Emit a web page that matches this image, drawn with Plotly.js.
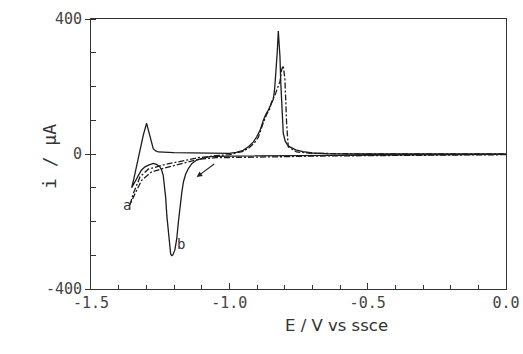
<!DOCTYPE html>
<html>
<head>
<meta charset="utf-8">
<script src="https://cdn.plot.ly/plotly-3.0.1.min.js"></script>
<style>html,body{margin:0;padding:0;background:#fff;}#chart{width:523px;height:354px;}</style>
</head>
<body>
<div id="chart"></div>
<script>
// Curve b (solid): cathodic scan from 0 V to vertex, then anodic return
const bE = [0, -0.3, -0.6, -0.7, -0.8, -0.9, -1.0, -1.04, -1.07, -1.095, -1.118, -1.135, -1.148, -1.158, -1.166, -1.172, -1.178, -1.184, -1.19, -1.197, -1.204, -1.208, -1.212, -1.217, -1.222, -1.226, -1.23, -1.233, -1.239, -1.245, -1.251, -1.263, -1.275, -1.29, -1.305, -1.318, -1.329, -1.34, -1.353,
  -1.345, -1.335, -1.323, -1.311, -1.299, -1.293, -1.287, -1.281, -1.275, -1.266, -1.257, -1.2, -1.1, -1.0, -0.975, -0.95, -0.93, -0.913, -0.901, -0.889, -0.877, -0.868, -0.859, -0.85, -0.841, -0.836, -0.831, -0.827, -0.823, -0.82, -0.817, -0.814, -0.811, -0.808, -0.805, -0.798, -0.79, -0.781, -0.76, -0.734, -0.7, -0.65, -0.5, 0];
const bI = [-1, -2, -3, -4, -5, -6, -6, -7, -8, -12, -18, -28, -43, -60, -83, -115, -152, -200, -251, -285, -299, -301, -297, -261, -220, -182, -130, -100, -63, -47, -38, -31, -28, -32, -38, -48, -63, -78, -100,
  -73, -33, 7, 56, 91, 72, 46, 28, 16, 9, 6, 4, 3, 2, 5, 11, 22, 36, 51, 70, 100, 118, 130, 145, 162, 195, 240, 300, 364, 330, 289, 210, 140, 95, 61, 38, 27, 21, 12, 7, 3, 1, 0, 0];

// Curve a (dash-dot)
const aE = [0, -0.3, -0.6, -0.7, -0.8, -0.9, -1.0, -1.05, -1.112, -1.172, -1.233, -1.281, -1.317, -1.341, -1.359,
  -1.347, -1.323, -1.293, -1.233, -1.172, -1.112, -1.052, -1.0, -0.95, -0.93, -0.91, -0.895, -0.878, -0.865, -0.855, -0.847, -0.835, -0.817, -0.811, -0.805, -0.799, -0.793, -0.787, -0.757, -0.7, -0.5, 0];
const aI = [-2, -3, -5, -6, -8, -9, -9, -11, -16, -28, -41, -53, -78, -118, -150,
  -117, -68, -45, -31, -21, -11, -5, -2, 8, 18, 32, 50, 91, 118, 132, 155, 175, 215, 250, 262, 220, 91, 21, 6, 2, 0, 0];

const xTickVals = [-1.5, -1.0, -0.5, 0.0];
const xTickText = ['-1.5', '-1.0', '-0.5', '0.0'];
const yTickVals = [-400, 0, 400];
const yTickText = ['-400', '0', '400'];

const lineColor = '#1c1c1c';
const traces = [
  {x: aE, y: aI, mode: 'lines', line: {color: lineColor, width: 1.3, dash: '6px,2px,2px,2px'}, hoverinfo: 'skip'},
  {x: bE, y: bI, mode: 'lines', line: {color: lineColor, width: 1.3}, hoverinfo: 'skip'}
];

const tickFont = {family: 'DejaVu Sans Mono', size: 15, color: '#444'};
const pw = 523 - 91 - 17, ph = 354 - 19 - 65;
const layout = {
  width: 523, height: 354,
  margin: {l: 91, r: 17, t: 19, b: 65},
  paper_bgcolor: '#fff', plot_bgcolor: '#fff',
  showlegend: false,
  xaxis: {
    range: [-1.5, 0], tickmode: 'array', tickvals: xTickVals, ticktext: xTickText,
    ticks: 'inside', ticklen: 6, tickwidth: 1, tickcolor: '#333',
    minor: {tickmode: 'linear', tick0: 0, dtick: 0.1, ticks: 'inside', ticklen: 4, tickcolor: '#333', showgrid: false},
    showline: true, mirror: true, linecolor: '#333', linewidth: 1,
    showgrid: false, zeroline: false, tickfont: tickFont
  },
  yaxis: {
    range: [-400, 400], tickmode: 'array', tickvals: yTickVals, ticktext: yTickText,
    ticks: 'outside', ticklen: 5, tickwidth: 1, tickcolor: '#333',
    minor: {tickmode: 'linear', tick0: 0, dtick: 100, ticks: 'inside', ticklen: 5, tickcolor: '#333', showgrid: false},
    showline: true, mirror: true, linecolor: '#333', linewidth: 1,
    showgrid: false, zeroline: false, tickfont: tickFont
  },
  annotations: [
    {x: -1.371, y: -152, xref: 'x', yref: 'y', text: 'a', showarrow: false, font: {family: 'DejaVu Sans Mono', size: 14, color: '#333'}},
    {x: -1.176, y: -266, xref: 'x', yref: 'y', text: 'b', showarrow: false, font: {family: 'DejaVu Sans Mono', size: 14, color: '#333'}},
    {x: -1.118, y: -68, xref: 'x', yref: 'y', ax: 19, ay: -14, text: '', showarrow: true, arrowhead: 2, arrowsize: 1, arrowwidth: 1.1, arrowcolor: '#222'},
    {x: (336 - 91) / pw, y: (289 - 325) / ph, xref: 'paper', yref: 'paper', xanchor: 'center', yanchor: 'middle',
     text: 'E / V vs ssce', showarrow: false, font: {family: 'DejaVu Sans', size: 16.5, color: '#333'}},
    {x: (49 - 91) / pw, y: (289 - 157) / ph, xref: 'paper', yref: 'paper', xanchor: 'center', yanchor: 'middle',
     text: 'i / μA', textangle: -90, showarrow: false, font: {family: 'DejaVu Sans Mono', size: 18, color: '#333'}}
  ]
};

Plotly.newPlot('chart', traces, layout, {staticPlot: true, displayModeBar: false});
</script>
</body>
</html>
